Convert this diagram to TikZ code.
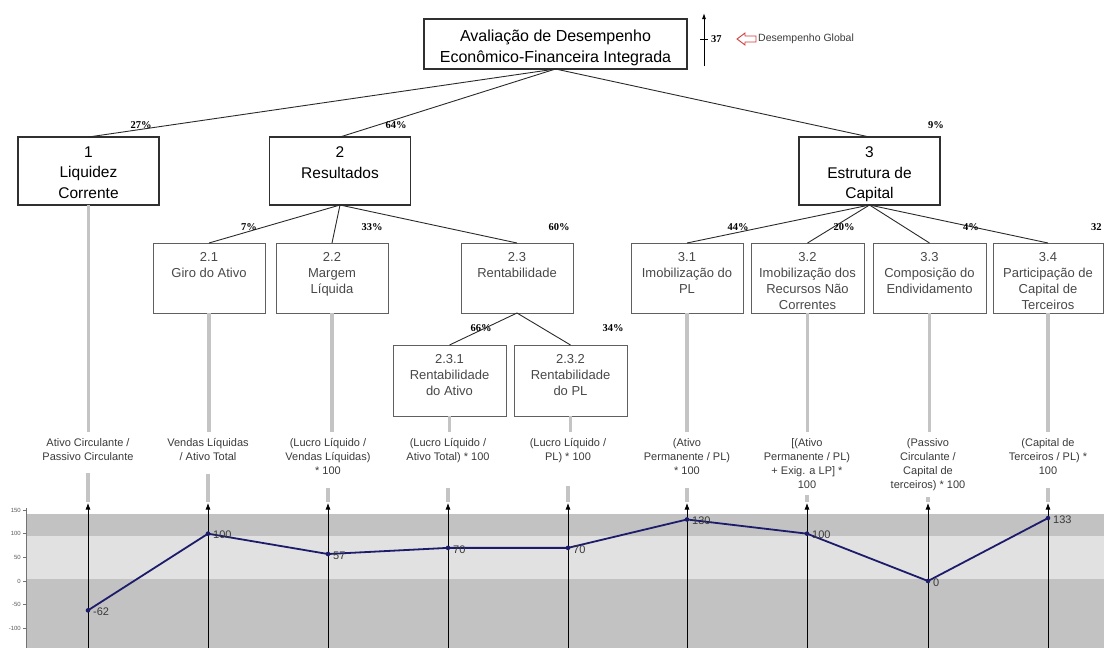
\documentclass[tikz,border=0pt]{standalone}
\usepackage{fontspec}
\setmainfont{Liberation Sans}
\newfontfamily\pctfont{Liberation Serif}
\usetikzlibrary{arrows.meta}
\definecolor{boxdark}{HTML}{303030}
\definecolor{boxlight}{HTML}{606060}
\definecolor{conncol}{HTML}{2A2A2A}
\definecolor{barcol}{HTML}{C4C4C4}
\definecolor{banddark}{HTML}{C2C2C2}
\definecolor{bandlight}{HTML}{E1E1E1}
\definecolor{seriescol}{HTML}{1C1C6B}
\definecolor{txtgray}{HTML}{3A3A3A}
\definecolor{subgray}{HTML}{484848}
\definecolor{redarrow}{HTML}{D03A3A}
\begin{document}
\begin{tikzpicture}[x=1pt,y=-1pt,
  topbox/.style={draw=boxdark,line width=1.1pt,inner sep=0,outer sep=0,minimum width=263pt,minimum height=50pt},
  mainbox/.style={draw=boxdark,line width=1.1pt,inner sep=0,outer sep=0,minimum width=141pt,minimum height=68pt},
  subbox/.style={draw=boxlight,line width=0.9pt,inner sep=0,outer sep=0,minimum width=112pt,minimum height=70pt},
  toptext/.style={anchor=north,inner sep=0,align=center,font=\fontsize{16}{21}\selectfont},
  maintext/.style={anchor=north,inner sep=0,align=center,font=\fontsize{15.5}{20.5}\selectfont},
  subtext/.style={anchor=north,inner sep=0,align=center,text=subgray,font=\fontsize{13}{16}\selectfont},
  formula/.style={anchor=north,inner sep=0,align=center,text=txtgray,font=\fontsize{11}{14}\selectfont},
  pct/.style={inner sep=0,font=\pctfont\bfseries\fontsize{10.5}{12}\selectfont},
  conn/.style={draw=conncol,line width=0.9pt},
  bar/.style={draw=barcol,line width=3.6pt},
  uparrow/.style={draw=black,line width=0.7pt,-{Latex[length=6.5pt,width=5pt]}},
  vallab/.style={anchor=west,inner sep=0,text=txtgray,font=\fontsize{11}{13}\selectfont},
  ticklab/.style={anchor=east,inner sep=0,text=black!65,font=\fontsize{6}{7}\selectfont}
]
\useasboundingbox (0,0) rectangle (1104,648);

% ---------- chart background ----------
\fill[banddark] (26,514) rectangle (1104,648);
\fill[bandlight] (26,536) rectangle (1104,579);
\draw[black!55,line width=0.6pt] (26,508) -- (26,648);
\foreach \v in {150,100,50,0,-50,-100}{
  \pgfmathsetmacro{\yy}{581-0.4733*\v}
  \draw[black!55,line width=0.5pt] (23,\yy) -- (26,\yy);
  \node[ticklab] at (21,\yy) {\v};
}

% ---------- tree ----------
\node[topbox] (top) at (555.5,44) {};
\node[toptext] at (555.5,29.3) {Avaliação de Desempenho\\Econômico-Financeira Integrada};

\coordinate (gbot) at (704,66);
\coordinate (gtop) at (704,13);
\draw[black,line width=0.9pt,-{Latex[length=6pt,width=4pt]}] (gbot) -- (gtop);
\coordinate (tickl) at (700,39);
\coordinate (tickr) at (708,39);
\draw[black,line width=0.7pt] (tickl) -- (tickr);
\node[pct,anchor=west] (gval) at (711,39.5) {37};
\draw[redarrow,line width=0.9pt,fill=white] (737,39) -- (745,33) -- (745,36) -- (756,36) -- (756,42) -- (745,42) -- (745,45) -- cycle;
\node[anchor=west,inner sep=0,text=txtgray,font=\fontsize{10.5}{12}\selectfont] (glob) at (758,39) {Desempenho Global};

\node[mainbox] (b1) at (88.5,171) {};
\node[maintext] at (88.5,146.5) {1\\Liquidez\\Corrente};
\node[mainbox] (b2) at (340,171) {};
\node[maintext] at (340,146.5) {2\\Resultados};
\node[mainbox] (b3) at (869.5,171) {};
\node[maintext] at (869.5,146.5) {3\\Estrutura de\\Capital};

\node[subbox] (b21) at (209,278) {};
\node[subtext] at (209,252.5) {2.1\\Giro do Ativo};
\node[subbox] (b22) at (332,278) {};
\node[subtext] at (332,252.5) {2.2\\Margem\\Líquida};
\node[subbox] (b23) at (517,278) {};
\node[subtext] at (517,252.5) {2.3\\Rentabilidade};
\node[subbox,minimum width=113pt,minimum height=71pt] (b231) at (449.5,380.5) {};
\node[subtext] at (449.5,354.5) {2.3.1\\Rentabilidade\\do Ativo};
\node[subbox,minimum width=113pt,minimum height=71pt] (b232) at (570.5,380.5) {};
\node[subtext] at (570.5,354.5) {2.3.2\\Rentabilidade\\do PL};
\node[subbox] (b31) at (687,278) {};
\node[subtext] at (687,252.5) {3.1\\Imobilização do\\PL};
\node[subbox,minimum width=113pt] (b32) at (807.5,278) {};
\node[subtext] at (807.5,252.5) {3.2\\Imobilização dos\\Recursos Não\\Correntes};
\node[subbox,minimum width=113pt] (b33) at (929.5,278) {};
\node[subtext] at (929.5,252.5) {3.3\\Composição do\\Endividamento};
\node[subbox,minimum width=110pt] (b34) at (1048,278) {};
\node[subtext] at (1048,252.5) {3.4\\Participação de\\Capital de\\Terceiros};

% connectors
\draw[conn] (top.south) -- (b1.north);
\draw[conn] (top.south) -- (b2.north);
\draw[conn] (top.south) -- (b3.north);
\draw[conn] (b2.south) -- (b21.north);
\draw[conn] (b2.south) -- (b22.north);
\draw[conn] (b2.south) -- (b23.north);
\draw[conn] (b23.south) -- (b231.north);
\draw[conn] (b23.south) -- (b232.north);
\draw[conn] (b3.south) -- (b31.north);
\draw[conn] (b3.south) -- (b32.north);
\draw[conn] (b3.south) -- (b33.north);
\draw[conn] (b3.south) -- (b34.north);

% weights
\node[pct] at (141,125) {27\%};
\node[pct] at (396,125) {64\%};
\node[pct] at (936,125) {9\%};
\node[pct] at (249,227) {7\%};
\node[pct] at (372,227) {33\%};
\node[pct] at (559,227) {60\%};
\node[pct] at (481,328) {66\%};
\node[pct] at (613,328) {34\%};
\node[pct] at (738,227) {44\%};
\node[pct] at (844,227) {20\%};
\node[pct] at (971,227) {4\%};
\node[pct,anchor=west] at (1091,227) {32};

% ---------- gray bars, formulas, arrows ----------
\foreach \n/\bx/\ax/\ly/\txt in {
  b1/88.5/88/473/{Ativo Circulante /\\Passivo Circulante},
  b21/209/208/474/{Vendas Líquidas\\/ Ativo Total},
  b22/332/328/488/{(Lucro Líquido /\\Vendas Líquidas)\\* 100},
  b231/449.5/448/488/{(Lucro Líquido /\\Ativo Total) * 100},
  b232/570.5/568/486/{(Lucro Líquido /\\PL) * 100},
  b31/687/687/488/{(Ativo\\Permanente / PL)\\* 100},
  b32/807.5/807/495/{{[}(Ativo\\Permanente / PL)\\+ Exig. a LP] *\\100},
  b33/929.5/928/497/{(Passivo\\Circulante /\\Capital de\\terceiros) * 100},
  b34/1048/1048/488/{(Capital de\\Terceiros / PL) *\\100}}{
  \coordinate (\n-g) at (\bx,432);
  \draw[bar] (\n.south) -- (\n-g);
  \node[formula] (\n-f) at (\ax,438.5) {\txt};
  \coordinate (\n-l) at (\ax,\ly);
  \coordinate (\n-t) at (\ax,503);
  \coordinate (\n-b) at (\ax,648);
  \draw[bar] (\n-l) -- (\ax,502);
  \draw[uparrow] (\n-b) -- (\n-t);
}

% ---------- series ----------
\foreach \i/\x/\v in {1/88/-62,2/208/100,3/328/57,4/448/70,5/568/70,6/687/130,7/807/100,8/928/0,9/1048/133}{
  \pgfmathsetmacro{\yy}{581-0.4733*\v}
  \coordinate (p\i) at (\x,\yy);
}
\draw[seriescol,line width=1.8pt,line join=round] (p1) -- (p2) -- (p3) -- (p4) -- (p5) -- (p6) -- (p7) -- (p8) -- (p9);
\foreach \i/\v in {1/-62,2/100,3/57,4/70,5/70,6/130,7/100,8/0,9/133}{
  \fill[seriescol] (p\i) circle (2.3pt);
  \node[vallab] at ([xshift=5pt,yshift=-1.5pt]p\i) {\v};
}
\end{tikzpicture}
\end{document}
